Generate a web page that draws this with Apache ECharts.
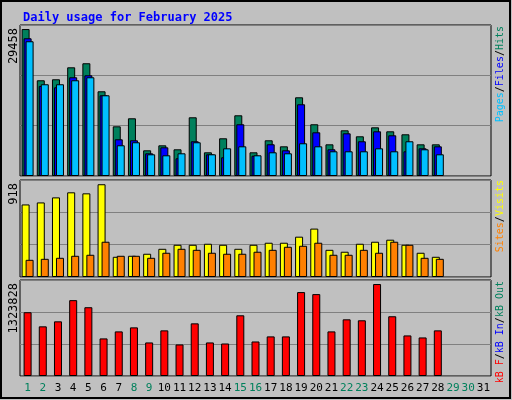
<!DOCTYPE html>
<html>
<head>
<meta charset="utf-8">
<script src="https://cdn.jsdelivr.net/npm/echarts@6/dist/echarts.min.js"></script>
<style>
  html, body { margin: 0; padding: 0; }
  #chart { width: 512px; height: 400px; }
</style>
</head>
<body>
<div id="chart"></div>
<script>
var days = [];
for (var d = 1; d <= 31; d++) days.push(String(d));
var weekend = ['1', '2', '8', '9', '15', '16', '22', '23', '29', '30'];

var hits = [29458, 19190, 19390, 21790, 22600, 16980, 9960, 11570, 5150, 6150, 5350, 11770, 4750, 7560, 12170, 4750, 7160, 5950, 15780, 10370, 6350, 9160, 7960, 9760, 8960, 8360, 6350, 6350];
var files = [27610, 18050, 17780, 19790, 20190, 16180, 7360, 7160, 4550, 5750, 3550, 6960, 4350, 3750, 10370, 4070, 6360, 5150, 14380, 8760, 5350, 8560, 6960, 8960, 8160, 4950, 5550, 5950];
var pages = [27010, 18390, 18390, 19190, 19790, 16180, 6160, 6760, 4350, 4150, 4550, 6760, 4350, 5550, 5950, 4150, 4750, 4550, 6560, 5950, 4950, 4950, 4950, 5550, 4950, 6960, 5350, 4350];
var visits = [718, 738, 788, 838, 828, 918, 200, 210, 230, 279, 319, 319, 329, 319, 279, 319, 339, 339, 399, 479, 269, 250, 329, 349, 369, 319, 240, 200];
var sites = [170, 180, 190, 210, 220, 349, 210, 210, 190, 240, 279, 269, 240, 230, 230, 250, 269, 299, 309, 339, 220, 220, 269, 240, 349, 319, 190, 180];
var kbytes = [918000, 715000, 787000, 1092000, 990000, 541000, 642000, 700000, 483000, 657000, 454000, 758000, 483000, 468000, 874000, 497000, 570000, 570000, 1208000, 1179000, 642000, 816000, 802000, 1323828, 860000, 584000, 555000, 657000];

var mono = 'DejaVu Sans Mono';
var grids = [
    { left: 20, width: 471, top: 25, height: 151 },
    { left: 20, width: 471, top: 180, height: 97 },
    { left: 20, width: 471, top: 280, height: 96 }
];
var maxes = [30270, 960, 1382000];

var xAxes = grids.map(function (g, i) {
    return {
        type: 'category', gridIndex: i, data: days,
        axisLine: { show: false }, axisTick: { show: false },
        axisLabel: i < 2 ? { show: false } : {
            interval: 0, margin: 7, fontFamily: mono, fontSize: 11,
            formatter: function (v) { return weekend.indexOf(v) >= 0 ? '{w|' + v + '}' : '{n|' + v + '}'; },
            rich: { w: { color: '#00805C', fontFamily: mono, fontSize: 11 }, n: { color: '#000', fontFamily: mono, fontSize: 11 } }
        }
    };
});
var yAxes = grids.map(function (g, i) {
    return {
        type: 'value', gridIndex: i, min: 0, max: maxes[i], interval: maxes[i] / 3,
        axisLabel: { show: false }, axisLine: { show: false }, axisTick: { show: false },
        splitLine: { lineStyle: { color: '#808080', width: 1 } }
    };
});

function bar(name, data, idx, color, width, gap) {
    return {
        name: name, type: 'bar', xAxisIndex: idx, yAxisIndex: idx, data: data,
        barWidth: width, barGap: gap, animation: false,
        itemStyle: { color: color, borderColor: '#000', borderWidth: 1 }
    };
}

function vlabel(x, y, parts, align, size) {
    var text = parts.map(function (p, i) { return '{c' + i + '|' + p[0] + '}'; }).join('');
    var rich = {};
    parts.forEach(function (p, i) { rich['c' + i] = { fill: p[1], fontFamily: mono, fontSize: size }; });
    return {
        type: 'text', x: x, y: y, rotation: Math.PI / 2,
        style: { text: text, rich: rich, align: align, verticalAlign: 'middle', fontFamily: mono, fontSize: size }
    };
}

var option = {
    backgroundColor: '#C0C0C0',
    title: {
        text: 'Daily usage for February 2025', left: 18, top: 7,
        textStyle: { color: '#0000FF', fontFamily: mono, fontSize: 12, fontWeight: 'bold' }
    },
    grid: grids.map(function (g) {
        return Object.assign({ show: true, borderColor: '#000', borderWidth: 1, backgroundColor: 'transparent' }, g);
    }),
    xAxis: xAxes,
    yAxis: yAxes,
    series: [
        bar('Hits', hits, 0, '#00805C', 8, '-75%'),
        bar('Files', files, 0, '#0000FF', 8, '-75%'),
        bar('Pages', pages, 0, '#00C0FF', 8, '-75%'),
        bar('Visits', visits, 1, '#FFFF00', 8, '-50%'),
        bar('Sites', sites, 1, '#FF8000', 8, '-50%'),
        bar('kB F', kbytes, 2, '#FF0000', 8, '0%')
    ],
    graphic: [
        { type: 'rect', shape: { x: 1, y: 1, width: 509, height: 397 }, style: { fill: 'none', stroke: '#000', lineWidth: 2 } },
        vlabel(14, 28, [['29458', '#000']], 'right', 12),
        vlabel(14, 183, [['918', '#000']], 'right', 12),
        vlabel(14, 283, [['1323828', '#000']], 'right', 12),
        vlabel(500, 26, [['Pages', '#00C0FF'], ['/', '#000'], ['Files', '#0000FF'], ['/', '#000'], ['Hits', '#00805C']], 'right', 10),
        vlabel(500, 180, [['Sites', '#FF8000'], ['/', '#000'], ['Visits', '#FFFF00']], 'right', 10),
        vlabel(500, 281, [['kB F', '#FF0000'], ['/', '#000'], ['kB In', '#0000FF'], ['/', '#000'], ['kB Out', '#00805C']], 'right', 10)
    ]
};

var chart = echarts.init(document.getElementById('chart'));
chart.setOption(option);
</script>
</body>
</html>
